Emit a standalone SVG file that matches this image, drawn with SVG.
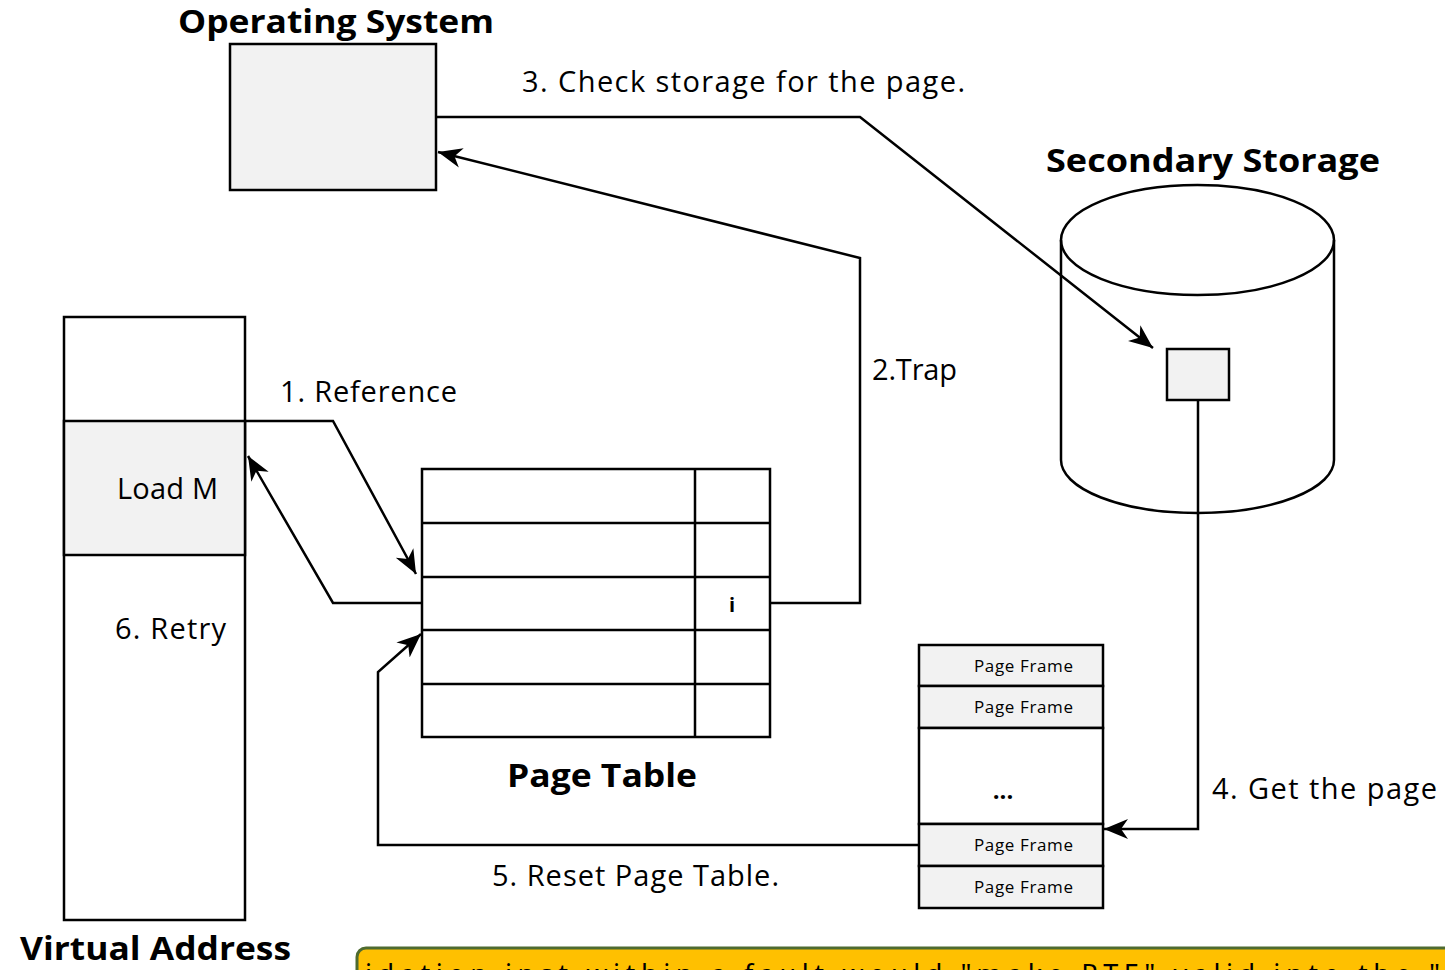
<svg xmlns="http://www.w3.org/2000/svg" width="1445" height="970" viewBox="0 0 1445 970">
<style>
text{font-family:"Open Sans","Noto Sans",sans-serif;fill:#000}
.title{font-weight:bold;font-size:33px}
.lbl{font-size:29px}
.pf{font-size:17px}
.box{fill:#f2f2f2;stroke:#000;stroke-width:2.5}
.wbox{fill:#fff;stroke:#000;stroke-width:2.5}
.ln{fill:none;stroke:#000;stroke-width:2.5}
.edge{fill:none;stroke:#000;stroke-width:2.5;marker-end:url(#arr)}
</style>
<defs>
<marker id="arr" markerUnits="userSpaceOnUse" markerWidth="26" markerHeight="22" refX="24" refY="11" orient="auto">
<path d="M0,1 L24,11 L0,21 L7,11 Z" fill="#000"/>
</marker>
</defs>
<rect width="1445" height="970" fill="#fff"/>

<g id="os">
<text class="title" x="178" y="33" textLength="316" lengthAdjust="spacingAndGlyphs">Operating System</text>
<rect class="box" x="230" y="44" width="206" height="146"/>
</g>

<g id="storage">
<text class="title" x="1046" y="172" textLength="334" lengthAdjust="spacingAndGlyphs">Secondary Storage</text>
<path class="wbox" d="M1061,240 L1061,460 A136.5,53 0 0 0 1334,460 L1334,240 A136.5,55 0 0 0 1061,240 Z"/>
<path class="ln" d="M1061,240 A136.5,55 0 0 0 1334,240"/>
<rect class="box" x="1167" y="349" width="62" height="51"/>
</g>

<g id="virtual-address">
<rect class="wbox" x="64" y="317" width="181" height="603"/>
<rect class="box" x="64" y="421" width="181" height="134"/>
<text class="lbl" x="117" y="499" textLength="101" lengthAdjust="spacing">Load M</text>
<text class="lbl" x="115" y="639" textLength="111" lengthAdjust="spacing">6. Retry</text>
<text class="title" x="20" y="960" textLength="271" lengthAdjust="spacingAndGlyphs">Virtual Address</text>
</g>

<g id="page-table">
<rect class="wbox" x="422" y="469" width="348" height="268"/>
<path class="ln" d="M422,523 H770 M422,577 H770 M422,630 H770 M422,684 H770 M695,469 V737"/>
<text x="732" y="612" text-anchor="middle" style="font-size:20px;font-weight:bold">i</text>
<text class="title" x="507" y="787" textLength="190" lengthAdjust="spacingAndGlyphs">Page Table</text>
</g>

<g id="page-frames">
<rect class="box" x="919" y="645" width="184" height="41"/>
<rect class="box" x="919" y="686" width="184" height="42"/>
<rect class="wbox" x="919" y="728" width="184" height="96"/>
<rect class="box" x="919" y="824" width="184" height="42"/>
<rect class="box" x="919" y="866" width="184" height="42"/>
<text class="pf" x="974" y="672" textLength="99" lengthAdjust="spacing">Page Frame</text>
<text class="pf" x="974" y="713" textLength="99" lengthAdjust="spacing">Page Frame</text>
<text x="1003" y="799" text-anchor="middle" style="font-size:24px;font-weight:bold">...</text>
<text class="pf" x="974" y="851" textLength="99" lengthAdjust="spacing">Page Frame</text>
<text class="pf" x="974" y="893" textLength="99" lengthAdjust="spacing">Page Frame</text>
</g>

<g id="connectors">
<path class="edge" d="M245,421 L333,421 L416,574"/>
<path class="edge" d="M422,603 L333,603 L248,456"/>
<path class="edge" d="M770,603 L860,603 L860,258 L438,152"/>
<path class="edge" d="M436,117 L860,117 L1153,348"/>
<path class="edge" d="M1198,400 L1198,829 L1104,829"/>
<path class="edge" d="M919,845 L378,845 L378,672 L421,634"/>
<text class="lbl" x="280" y="402" textLength="177" lengthAdjust="spacing">1. Reference</text>
<text class="lbl" x="872" y="380" textLength="85" lengthAdjust="spacing">2.Trap</text>
<text class="lbl" x="522" y="92" textLength="443" lengthAdjust="spacing">3. Check storage for the page.</text>
<text class="lbl" x="1212" y="799" textLength="225" lengthAdjust="spacing">4. Get the page</text>
<text class="lbl" x="492" y="886" textLength="287" lengthAdjust="spacing">5. Reset Page Table.</text>
</g>

<g id="note">
<rect x="357" y="948" width="1110" height="60" rx="9" fill="#ffc000" stroke="#4e6b30" stroke-width="3"/>
<text x="365" y="984" textLength="1075" lengthAdjust="spacing" style="font-size:27px;font-family:'Noto Sans',sans-serif">idation inst within a fault would "make PTE" valid into the "</text>
</g>
</svg>
